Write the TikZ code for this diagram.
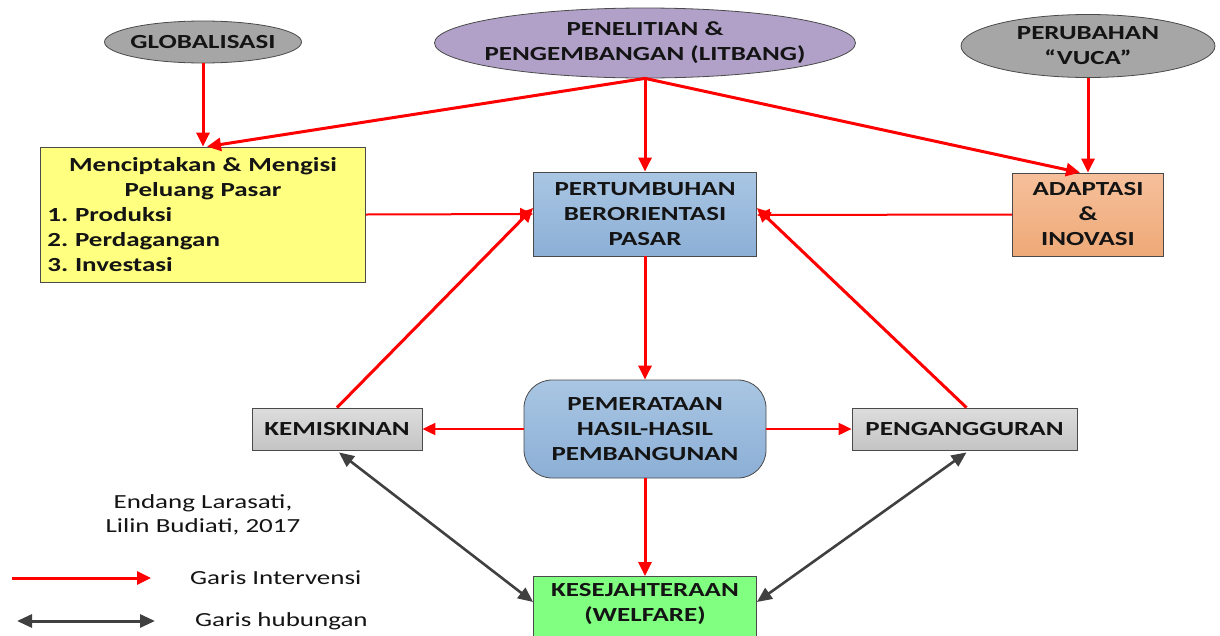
\documentclass[tikz,border=0pt]{standalone}
\usepackage{fontspec}
\setmainfont{Carlito}[FakeStretch=1.35]
\usetikzlibrary{shapes.geometric,arrows.meta,calc}
\frenchspacing
\definecolor{txt}{HTML}{141414}
\definecolor{edge}{HTML}{4A4A4A}
\definecolor{ellgray}{HTML}{A6A6A6}
\definecolor{lav}{HTML}{B1A0C7}
\definecolor{yel}{HTML}{FFFF80}
\definecolor{bluetop}{HTML}{A9C6E3}
\definecolor{bluebot}{HTML}{8CAFD6}
\definecolor{orgtop}{HTML}{F6C09B}
\definecolor{orgbot}{HTML}{EEA977}
\definecolor{graytop}{HTML}{DDDDDD}
\definecolor{graybot}{HTML}{C4C4C4}
\definecolor{grn}{HTML}{80FF80}
\definecolor{darkarr}{HTML}{404040}
\begin{document}
\begin{tikzpicture}[x=1pt,y=-1pt,
  every node/.style={text=txt},
  bfont/.style={font=\fontsize{20}{25}\selectfont\bfseries},
  nfont/.style={font=\fontsize{20}{24}\selectfont},
  ell/.style={ellipse,draw=edge,line width=0.8pt},
  boxx/.style={rectangle,draw=edge,line width=0.8pt,inner sep=0pt,align=center,bfont},
  redarr/.style={draw=red,line width=3pt,-{Triangle[length=14pt,width=13pt]}},
  redthin/.style={draw=red,line width=2pt,-{Triangle[length=13pt,width=12pt]}},
  grayarr/.style={draw=darkarr,line width=2.6pt,{Triangle[length=15pt,width=13pt]}-{Triangle[length=15pt,width=13pt]}}
]
\useasboundingbox (0,0) rectangle (1220,635);
\clip (0,0) rectangle (1220,635);

% ellipses
\node[ell,fill=ellgray,minimum width=197pt,minimum height=42pt,
  label={[bfont,text=txt]center:GLOBALISASI}] (glob) at (203,42) {};
\node[ell,fill=lav,minimum width=421pt,minimum height=70pt,
  label={[bfont,text=txt,align=center]center:PENELITIAN \&\\PENGEMBANGAN (LITBANG)}] (lit) at (645,43) {};
\node[ell,fill=ellgray,minimum width=254pt,minimum height=63pt,
  label={[bfont,text=txt,align=center]center:PERUBAHAN\\“VUCA”}] (vuca) at (1088,46) {};

% boxes
\node[boxx,fill=yel,minimum width=325pt,minimum height=135pt,text width=311pt,align=left] (yel) at (203,214.5)
  {{\centering Menciptakan \& Mengisi\\Peluang Pasar\par}1. Produksi\\2. Perdagangan\\3. Investasi};
\node[boxx,top color=bluetop,bottom color=bluebot,minimum width=223pt,minimum height=84pt] (per) at (645,214)
  {PERTUMBUHAN\\BERORIENTASI\\PASAR};
\node[boxx,top color=orgtop,bottom color=orgbot,minimum width=151pt,minimum height=83pt] (adp) at (1088,214.5)
  {ADAPTASI\\\&\\INOVASI};
\node[boxx,top color=bluetop,bottom color=bluebot,rounded corners=28pt,minimum width=242pt,minimum height=98pt] (pem) at (645,429)
  {PEMERATAAN\\HASIL-HASIL\\PEMBANGUNAN};
\node[boxx,top color=graytop,bottom color=graybot,minimum width=170pt,minimum height=42pt] (kem) at (337,429) {KEMISKINAN};
\node[boxx,top color=graytop,bottom color=graybot,minimum width=225pt,minimum height=42pt] (pen) at (964.5,429) {PENGANGGURAN};
\node[boxx,fill=grn,minimum width=223pt,minimum height=74pt,anchor=north] (kes) at (645,576) {};
\node[bfont,align=center] (kestxt) at (645,604) {KESEJAHTERAAN\\(WELFARE)};

% red arrows
\draw[redarr] (glob.south) -- (yel.north);
\draw[redarr] (lit.south) -- ([xshift=4pt]yel.north);
\draw[redarr] (lit.south) -- (per.north);
\draw[redarr] (lit.south) -- ([xshift=-8pt]adp.north);
\draw[redarr] (vuca.south) -- (adp.north);
\draw[redthin] (yel.east) -- (per.west);
\draw[redthin] (adp.west) -- ([yshift=-1pt]per.east);
\draw[redarr] (kem.north) -- ([yshift=6pt]per.west);
\draw[redarr] ([xshift=2pt]pen.north) -- ([yshift=6pt]per.east);
\draw[redarr] (per.south) -- (pem.north);
\draw[redthin] (pem.west) -- (kem.east);
\draw[redthin] (pem.east) -- (pen.west);
\draw[redarr] (pem.south) -- (kes.north);

% gray double arrows
\draw[grayarr] ([xshift=2pt,yshift=-2pt]kem.south) -- ([yshift=-26pt]kes.north west);
\draw[grayarr] ([xshift=2pt,yshift=-2pt]pen.south) -- ([yshift=-26pt]kes.north east);

% attribution
\node[nfont,align=center] (auth) at (203,515) {Endang Larasati,\\Lilin Budiati, 2017};

% legend
\coordinate (l1a) at (12,578);
\coordinate (l1b) at (151,578);
\draw[redarr] (l1a) -- (l1b);
\node[nfont,anchor=west,inner sep=0pt] (lg1) at (190,578) {Garis Intervensi};
\coordinate (l2a) at (17,621);
\coordinate (l2b) at (155,621);
\draw[grayarr,line width=3pt] (l2a) -- (l2b);
\node[nfont,anchor=west,inner sep=0pt] (lg2) at (195,621) {Garis hubungan};
\end{tikzpicture}
\end{document}
